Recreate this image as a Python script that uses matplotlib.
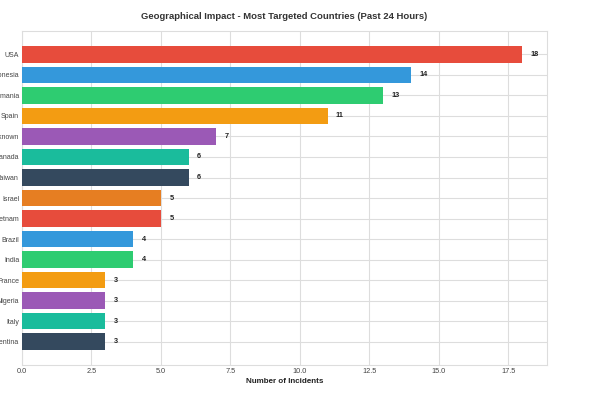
import matplotlib.pyplot as plt

plt.rcParams['font.family'] = ['Liberation Sans', 'DejaVu Sans']

countries = ['USA', 'Indonesia', 'Romania', 'Spain', 'Unknown', 'Canada', 'Taiwan', 'Israel',
             'Vietnam', 'Brazil', 'India', 'France', 'Nigeria', 'Italy', 'Argentina']
incidents = [18, 14, 13, 11, 7, 6, 6, 5, 5, 4, 4, 3, 3, 3, 3]
colors = ['#e74c3c', '#3498db', '#2ecc71', '#f39c12', '#9b59b6', '#1abc9c', '#34495e', '#e67e22',
          '#e74c3c', '#3498db', '#2ecc71', '#f39c12', '#9b59b6', '#1abc9c', '#34495e']

fig = plt.figure(figsize=(5.92, 3.99), dpi=100)
ax = fig.add_axes([0.0372, 0.0852, 0.8868, 0.8370])

y = list(range(len(countries)))
ax.barh(y, incidents, color=colors, height=0.8, zorder=3)
ax.invert_yaxis()
ax.set_yticks(y)
ax.set_yticklabels(countries, fontsize=5, color='#333333')
ax.set_xlim(0, 18.9)

for i, v in enumerate(incidents):
    ax.text(v + 0.3, i, str(v), va='center', ha='left', fontsize=5.3, fontweight='bold', color='#222222')

ax.grid(True, color='#dddddd', linewidth=0.8, zorder=0)
for s in ax.spines.values():
    s.set_color('#dddddd')
ax.tick_params(axis='x', length=0, labelsize=5.3, colors='#444444', pad=2.5)
ax.tick_params(axis='y', length=0, labelsize=5, colors='#444444', pad=2)
ax.set_xlabel('Number of Incidents', fontsize=5.8, fontweight='bold', color='#222222', labelpad=2)
ax.set_title('Geographical Impact - Most Targeted Countries (Past 24 Hours)', fontsize=6.8,
             fontweight='bold', color='#333333', pad=9)

fig.savefig('out.png', dpi=100)
